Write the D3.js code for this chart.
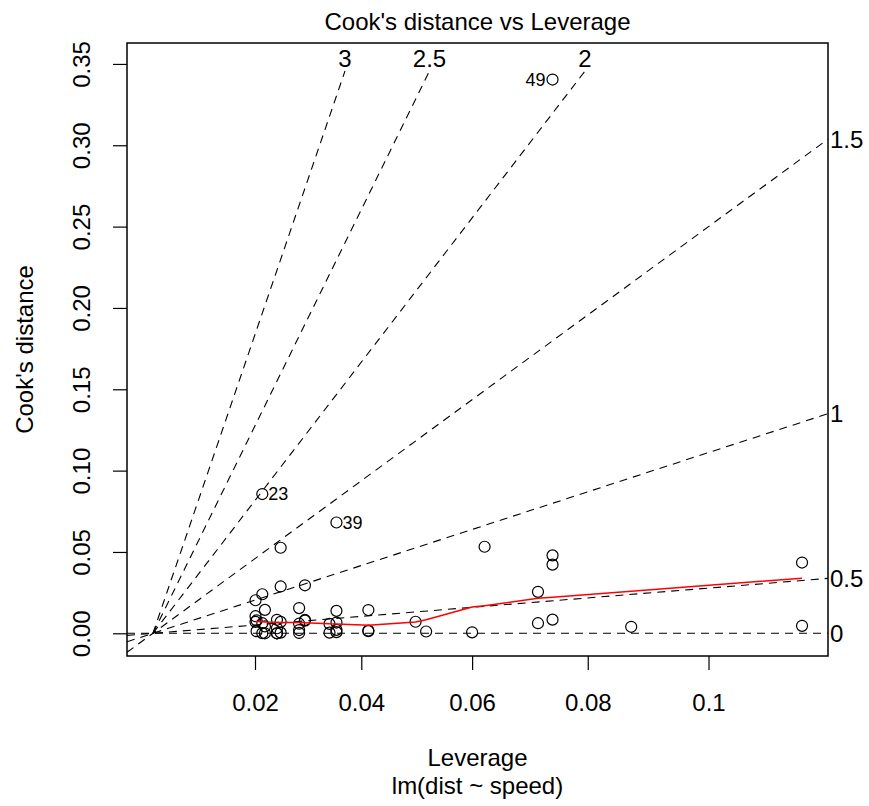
<!DOCTYPE html>
<html>
<head>
<meta charset="utf-8">
<script src="https://cdn.jsdelivr.net/npm/d3@7"></script>
<style>
  body { margin: 0; background: #fff; }
  text { font-family: "Liberation Sans", Arial, Helvetica, sans-serif; fill: #000; }
</style>
</head>
<body>
<div id="chart"></div>
<script>
// leverage h[ii] and Cook's distance for the 50 observations of lm(dist ~ speed)
const leverage = [
  0.1149, 0.1149, 0.0715, 0.0715, 0.0600, 0.0499, 0.0413, 0.0413, 0.0413, 0.0341,
  0.0341, 0.0284, 0.0284, 0.0284, 0.0284, 0.0242, 0.0242, 0.0242, 0.0242, 0.0214,
  0.0214, 0.0214, 0.0214, 0.0201, 0.0201, 0.0201, 0.0203, 0.0203, 0.0219, 0.0219,
  0.0219, 0.0249, 0.0249, 0.0249, 0.0249, 0.0295, 0.0295, 0.0295, 0.0354, 0.0354,
  0.0354, 0.0354, 0.0354, 0.0518, 0.0622, 0.0740, 0.0740, 0.0740, 0.0740, 0.0873
];
const cooks = [
  0.0046, 0.0435, 0.0062, 0.0255, 0.0006, 0.0071, 0.0013, 0.0017, 0.0143, 0.0058,
  0.0004, 0.0155, 0.0059, 0.0020, 0.0002, 0.0031, 0.0000, 0.0000, 0.0083, 0.0062,
  0.0001, 0.0240, 0.0856, 0.0203, 0.0105, 0.0070, 0.0079, 0.0013, 0.0144, 0.0042,
  0.0000, 0.0070, 0.0004, 0.0288, 0.0526, 0.0295, 0.0082, 0.0078, 0.0681, 0.0138,
  0.0066, 0.0021, 0.0007, 0.0011, 0.0532, 0.0084, 0.0422, 0.0479, 0.3404, 0.0040
];
const labelledObs = [49, 23, 39];

// red smoother, read at each distinct leverage
const smoothLeverage = [0.0201, 0.0203, 0.0214, 0.0219, 0.0242, 0.0249, 0.0284, 0.0295, 0.0341, 0.0354,
                        0.0413, 0.0499, 0.0518, 0.0600, 0.0622, 0.0715, 0.0740, 0.0873, 0.1149];
const smoothCooks    = [0.0073, 0.0072, 0.0071, 0.0070, 0.0068, 0.0067, 0.0066, 0.0065, 0.0058, 0.0057,
                        0.0050, 0.0069, 0.0083, 0.0161, 0.0170, 0.0215, 0.0222, 0.0258, 0.0339];

const xTickValues = [0.02, 0.04, 0.06, 0.08, 0.1];
const xTickLabels = ["0.02", "0.04", "0.06", "0.08", "0.1"];
const yTickValues = [0, 0.05, 0.10, 0.15, 0.20, 0.25, 0.30, 0.35];
const yTickLabels = ["0.00", "0.05", "0.10", "0.15", "0.20", "0.25", "0.30", "0.35"];
const contourLevels = [0, 0.5, 1, 1.5, 2, 2.5, 3];

const W = 869, H = 806;
const margin = { top: 43, right: 41, bottom: 150, left: 127 };
const fontSize = 24;

// x is plotted on h/(1-h), labels show h
const toG = h => h / (1 - h);
const g = leverage.map(toG);

const gMax = d3.max(g);
const yMax = d3.max(cooks) * 1.025;

const x = d3.scaleLinear()
    .domain([-0.04 * gMax, 1.04 * gMax])
    .range([margin.left, W - margin.right]);
const y = d3.scaleLinear()
    .domain([-0.04 * yMax, 1.04 * yMax])
    .range([H - margin.bottom, margin.top]);

const svg = d3.select("#chart").append("svg")
    .attr("width", W)
    .attr("height", H);

svg.append("clipPath").attr("id", "plotClip")
  .append("rect")
    .attr("x", margin.left).attr("y", margin.top)
    .attr("width", W - margin.left - margin.right)
    .attr("height", H - margin.top - margin.bottom);

// dashed contour lines of constant standardised residual
const usrX = x.domain()[1], usrY = y.domain()[1];
const lineEndPx = 71;      // where the steep lines stop under their labels
const contours = svg.append("g").attr("clip-path", "url(#plotClip)");
const contourText = svg.append("g");

contourLevels.forEach(b => {
    const b2 = b * b;
    if (usrY > b2 * usrX) {
        const x0 = x.domain()[0];
        contours.append("line")
            .attr("x1", x(x0)).attr("y1", y(b2 * x0))
            .attr("x2", x(usrX)).attr("y2", y(b2 * usrX))
            .attr("stroke", "#000").attr("stroke-width", 1.1)
            .attr("stroke-dasharray", "8,6");
        contourText.append("text")
            .attr("x", W - margin.right + 2)
            .attr("y", y(b2 * usrX))
            .attr("dy", "0.35em")
            .style("font-size", fontSize + "px")
            .text(String(b));
    } else {
        const yi = y.invert(lineEndPx);
        const xi = yi / b2;
        svg.append("line")
            .attr("x1", x(0)).attr("y1", y(0))
            .attr("x2", x(xi)).attr("y2", y(yi))
            .attr("stroke", "#000").attr("stroke-width", 1.1)
            .attr("stroke-dasharray", "8,6");
        contourText.append("text")
            .attr("x", x(xi))
            .attr("y", lineEndPx - 4)
            .attr("text-anchor", "middle")
            .style("font-size", fontSize + "px")
            .text(String(b));
    }
});

// points
svg.append("g")
  .selectAll("circle")
  .data(g)
  .enter()
  .append("circle")
    .attr("cx", d => x(d))
    .attr("cy", (d, i) => y(cooks[i]))
    .attr("r", 5.5)
    .attr("fill", "none")
    .attr("stroke", "#000")
    .attr("stroke-width", 1.2);

// smoother
svg.append("path")
    .datum(smoothLeverage.map((h, i) => [toG(h), smoothCooks[i]]))
    .attr("fill", "none")
    .attr("stroke", "red")
    .attr("stroke-width", 1.5)
    .attr("d", d3.line().x(d => x(d[0])).y(d => y(d[1])));

// id labels, left of the point when it lies in the right half
const midG = (d3.min(g) + gMax) / 2;
svg.append("g")
  .selectAll("text")
  .data(labelledObs)
  .enter()
  .append("text")
    .attr("x", d => g[d - 1] > midG ? x(g[d - 1]) - 7 : x(g[d - 1]) + 6)
    .attr("y", d => y(cooks[d - 1]))
    .attr("dy", "0.35em")
    .attr("text-anchor", d => g[d - 1] > midG ? "end" : "start")
    .style("font-size", "18px")
    .text(d => d);

// axes
const xAxis = svg.append("g")
    .attr("transform", "translate(0," + (H - margin.bottom) + ")")
    .call(d3.axisBottom(x)
        .tickValues(xTickValues.map(toG))
        .tickFormat((d, i) => xTickLabels[i])
        .tickSize(14));
xAxis.select(".domain").remove();
xAxis.selectAll("line").attr("stroke-width", 1.2);
xAxis.selectAll("text")
    .attr("y", 55).attr("dy", null)
    .style("font-size", fontSize + "px")
    .attr("font-family", null);

const yAxis = svg.append("g")
    .attr("transform", "translate(" + margin.left + ",0)")
    .call(d3.axisLeft(y)
        .tickValues(yTickValues)
        .tickFormat((d, i) => yTickLabels[i])
        .tickSize(14));
yAxis.select(".domain").remove();
yAxis.selectAll("line").attr("stroke-width", 1.2);
yAxis.selectAll("text")
    .attr("x", null).attr("dy", null)
    .attr("transform", "translate(-37,0) rotate(-90)")
    .attr("text-anchor", "middle")
    .style("font-size", fontSize + "px")
    .attr("font-family", null);

// frame
svg.append("rect")
    .attr("x", margin.left).attr("y", margin.top)
    .attr("width", W - margin.left - margin.right)
    .attr("height", H - margin.top - margin.bottom)
    .attr("fill", "none")
    .attr("stroke", "#000")
    .attr("stroke-width", 1.5);

// titles
const midX = (margin.left + W - margin.right) / 2;
svg.append("text")
    .attr("x", midX).attr("y", 30)
    .attr("text-anchor", "middle")
    .style("font-size", fontSize + "px")
    .text("Cook's distance vs Leverage");

svg.append("text")
    .attr("x", midX).attr("y", 766)
    .attr("text-anchor", "middle")
    .style("font-size", fontSize + "px")
    .text("Leverage");

svg.append("text")
    .attr("x", midX).attr("y", 794)
    .attr("text-anchor", "middle")
    .style("font-size", fontSize + "px")
    .text("lm(dist ~ speed)");

svg.append("text")
    .attr("transform", "translate(33," + ((margin.top + H - margin.bottom) / 2) + ") rotate(-90)")
    .attr("text-anchor", "middle")
    .style("font-size", fontSize + "px")
    .text("Cook's distance");
</script>
</body>
</html>
